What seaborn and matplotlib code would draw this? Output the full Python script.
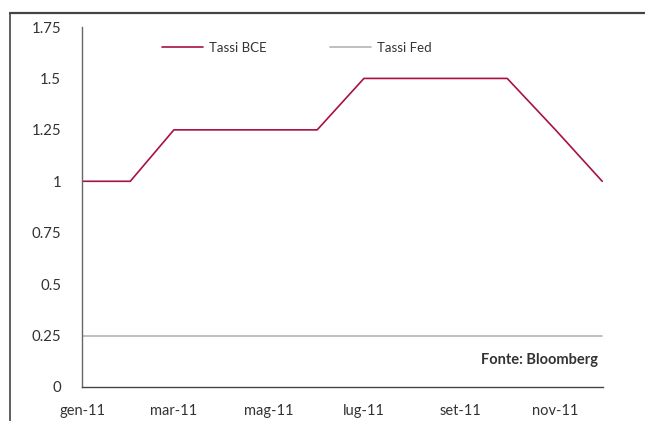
import matplotlib
matplotlib.use("Agg")
import matplotlib.pyplot as plt
from matplotlib.lines import Line2D
import pandas as pd
import seaborn as sns

# Monthly observations, 2011
months = ["2011-01-01", "2011-02-01", "2011-03-01", "2011-04-01", "2011-05-01",
          "2011-06-01", "2011-07-01", "2011-08-01", "2011-09-01", "2011-10-01",
          "2011-11-01", "2011-12-01"]
tassi_bce = [1.0, 1.0, 1.25, 1.25, 1.25, 1.25, 1.5, 1.5, 1.5, 1.5, 1.25, 1.0]
tassi_fed = [0.25] * 12

tick_dates = ["2011-01-01", "2011-03-01", "2011-05-01", "2011-07-01",
              "2011-09-01", "2011-11-01"]
tick_labels = ["gen-11", "mar-11", "mag-11", "lug-11", "set-11", "nov-11"]
y_ticks = [0, 0.25, 0.5, 0.75, 1, 1.25, 1.5, 1.75]
y_labels = ["0", "0.25", "0.5", "0.75", "1", "1.25", "1.5", "1.75"]

df = pd.DataFrame({
    "data": pd.to_datetime(months * 2),
    "tasso": tassi_bce + tassi_fed,
    "serie": ["Tassi BCE"] * 12 + ["Tassi Fed"] * 12,
})

sns.set_theme(style="white")
plt.rcParams["font.family"] = ["Lato", "DejaVu Sans"]
text_col = "#333333"

fig = plt.figure(figsize=(6.45, 4.21), dpi=100)
ax = fig.add_axes([82 / 645, 1 - 387 / 421, (603 - 82) / 645, (387 - 27) / 421])

palette = {"Tassi BCE": "#A8123F", "Tassi Fed": "#B4B4B4"}
sns.lineplot(data=df, x="data", y="tasso", hue="serie", palette=palette,
             linewidth=1.2, ax=ax, legend=False)

ax.set_xlim(pd.Timestamp("2011-01-01"), pd.Timestamp("2011-12-01") + pd.Timedelta(hours=12))
ax.set_ylim(0, 1.75)
ax.set_xticks(pd.to_datetime(tick_dates))
ax.set_xticklabels(tick_labels, fontsize=10.5, color=text_col)
ax.set_yticks(y_ticks)
ax.set_yticklabels(y_labels, fontsize=10.8, color=text_col)
ax.tick_params(axis="x", length=0, pad=12)
ax.tick_params(axis="y", length=0, pad=15)
ax.set_xlabel("")
ax.set_ylabel("")
ax.grid(False)

for side in ("top", "right"):
    ax.spines[side].set_visible(False)
ax.spines["left"].set_color("#666666")
ax.spines["bottom"].set_color("#444444")
ax.spines["left"].set_linewidth(1.0)
ax.spines["bottom"].set_linewidth(1.0)

handles = [Line2D([], [], color=palette["Tassi BCE"], linewidth=1.2),
           Line2D([], [], color=palette["Tassi Fed"], linewidth=1.2)]
leg = fig.legend(handles, ["Tassi BCE", "Tassi Fed"], ncol=2, frameon=False,
                 loc="center left", bbox_to_anchor=(162 / 645, 1 - 48 / 421),
                 fontsize=9.5, handlelength=3.1, handletextpad=0.45,
                 columnspacing=4.8, borderaxespad=0, borderpad=0)
for t in leg.get_texts():
    t.set_color(text_col)

ax.text(0.99, 0.075, "Fonte: Bloomberg", transform=ax.transAxes, ha="right",
        va="center", fontsize=10.5, fontweight="bold", color=text_col)

# Outer frame: top and left rules
fig.add_artist(Line2D([10 / 645, 1.0], [1 - 13 / 421, 1 - 13 / 421],
                      transform=fig.transFigure, color="#444444", linewidth=1.6))
fig.add_artist(Line2D([10 / 645, 10 / 645], [0.0, 1 - 13 / 421],
                      transform=fig.transFigure, color="#444444", linewidth=1.2))

fig.savefig("out.png", dpi=100)
